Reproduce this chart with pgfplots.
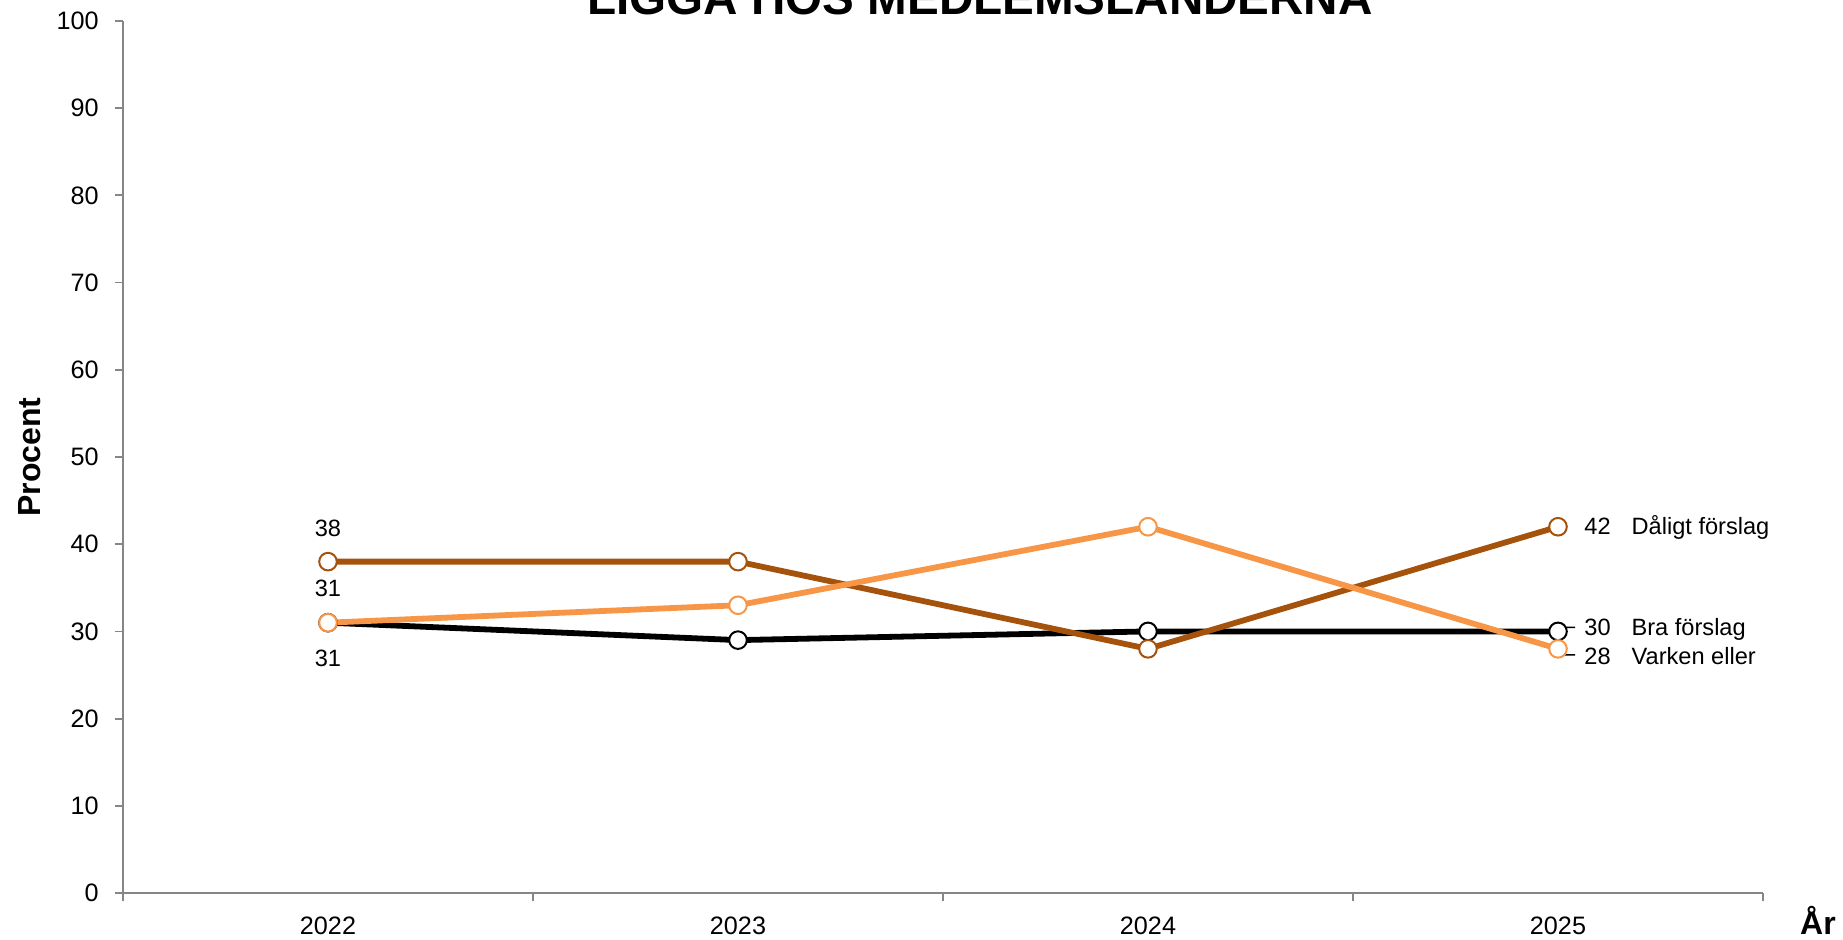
\documentclass[border=0pt]{standalone}
\usepackage{pgfplots}
\pgfplotsset{compat=1.18}
\usepackage{fontspec}
\setmainfont{Liberation Sans}
\definecolor{cbra}{RGB}{0,0,0}
\definecolor{cdal}{RGB}{165,82,12}
\definecolor{cvar}{RGB}{247,150,70}
\definecolor{axgray}{RGB}{134,134,134}
\newcommand{\lbl}{\fontsize{11.8pt}{13pt}\selectfont}
\begin{document}
\begin{tikzpicture}
\path[use as bounding box] (0,0) rectangle (921.5pt,469.5pt);
\node[anchor=base, font=\bfseries\fontsize{23.8pt}{26pt}\selectfont, inner sep=0pt] at (490pt,462pt) {LIGGA HOS MEDLEMSLÄNDERNA};
\begin{axis}[
  at={(61.5pt,23pt)}, anchor=south west,
  scale only axis, width=820pt, height=436pt,
  xmin=-0.5, xmax=3.5, ymin=0, ymax=100,
  clip=false,
  axis x line=bottom, axis y line=left,
  axis line style={-, draw=axgray, line width=0.9pt},
  tick style={draw=axgray, line width=0.9pt},
  tick align=outside,
  major tick length=4pt,
  ytick={0,10,...,100},
  xtick={-0.5,0.5,1.5,2.5,3.5},
  xticklabels={},
  extra x ticks={0,1,2,3},
  extra x tick labels={2022,2023,2024,2025},
  extra x tick style={major tick length=0pt},
  /pgf/number format/assume math mode=true,
  ticklabel style={font=\fontsize{12.6pt}{14pt}\selectfont},
  yticklabel style={inner sep=0pt, anchor=east, xshift=-8pt},
  xticklabel style={inner sep=0pt, anchor=north, yshift=-11.5pt},
  ylabel={Procent},
  ylabel style={at={(axis description cs:-0.0567,0.5)}, anchor=center, rotate=0, font=\bfseries\fontsize{16pt}{18pt}\selectfont},
  xlabel={År},
  xlabel style={at={(axis description cs:1.0335,-0.031)}, anchor=center, font=\bfseries\fontsize{16pt}{18pt}\selectfont},
]
% Bra förslag
\addplot[cbra, line width=2.9pt, mark=*, mark size=4.4pt,
  mark options={fill=white, draw=cbra, line width=1pt}]
  coordinates {(0,31) (1,29) (2,30) (3,30)};
% Dåligt förslag
\addplot[cdal, line width=2.9pt, mark=*, mark size=4.4pt,
  mark options={fill=white, draw=cdal, line width=1pt}]
  coordinates {(0,38) (1,38) (2,28) (3,42)};
% Varken eller
\addplot[cvar, line width=2.9pt, mark=*, mark size=4.4pt,
  mark options={fill=white, draw=cvar, line width=1pt}]
  coordinates {(0,31) (1,33) (2,42) (3,28)};
% leader lines
\draw[black, line width=0.8pt] (axis cs:3,30) ++(1pt,-0.5pt) -- ++(2.5pt,2.5pt) -- ++(5pt,0pt);
\draw[black, line width=0.8pt] (axis cs:3,28) ++(1pt,-1pt) -- ++(2.5pt,-2pt) -- ++(5pt,0pt);
% data labels at 2022
\addplot[draw=none, mark=none, nodes near coords, point meta=explicit symbolic,
  nodes near coords style={anchor=center, inner sep=0pt, yshift=16.5pt, font=\lbl, text=black}]
  coordinates {(0,38) [38]};
\addplot[draw=none, mark=none, nodes near coords, point meta=explicit symbolic,
  nodes near coords style={anchor=center, inner sep=0pt, yshift=17pt, font=\lbl, text=black}]
  coordinates {(0,31) [31]};
\addplot[draw=none, mark=none, nodes near coords, point meta=explicit symbolic,
  nodes near coords style={anchor=center, inner sep=0pt, yshift=-18pt, font=\lbl, text=black}]
  coordinates {(0,31) [31]};
% end labels
\addplot[draw=none, mark=none, nodes near coords, point meta=explicit symbolic,
  nodes near coords style={anchor=west, inner sep=0pt, xshift=13pt, yshift=-0.5pt, font=\lbl, text=black}]
  coordinates {(3,42) [42\hspace{10.5pt}Dåligt förslag]};
\addplot[draw=none, mark=none, nodes near coords, point meta=explicit symbolic,
  nodes near coords style={anchor=west, inner sep=0pt, xshift=13pt, yshift=1pt, font=\lbl, text=black}]
  coordinates {(3,30) [30\hspace{10.5pt}Bra förslag]};
\addplot[draw=none, mark=none, nodes near coords, point meta=explicit symbolic,
  nodes near coords style={anchor=west, inner sep=0pt, xshift=13pt, yshift=-3.5pt, font=\lbl, text=black}]
  coordinates {(3,28) [28\hspace{10.5pt}Varken eller]};
\end{axis}
\end{tikzpicture}
\end{document}
